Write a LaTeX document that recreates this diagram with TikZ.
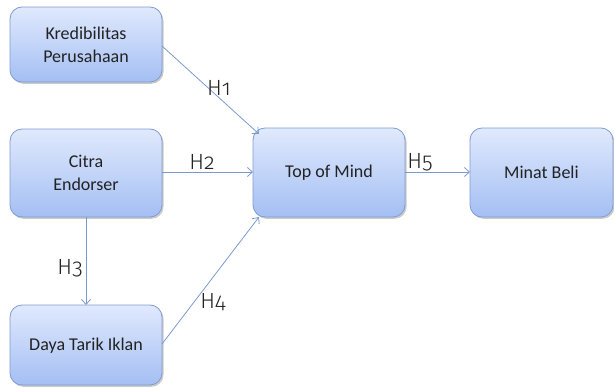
\documentclass[tikz,border=0pt]{standalone}
\usepackage{fontspec}
\setmainfont{Carlito}
\newfontfamily\hfont[Numbers=OldStyle]{Fira Sans Light}
\usetikzlibrary{shadows,arrows.meta}
\definecolor{boxtop}{HTML}{E0E9FD}
\definecolor{boxbot}{HTML}{A4BFF3}
\definecolor{boxline}{HTML}{809CCF}
\definecolor{arrowcol}{HTML}{7A9ACF}
\definecolor{txt}{HTML}{222222}
\tikzset{
  varbox/.style={draw=boxline, line width=0.8pt, rounded corners=12pt,
    top color=boxtop, bottom color=boxbot,
    drop shadow={shadow xshift=1.5pt, shadow yshift=-1.8pt, opacity=0.35, fill=black!60}},
  boxtext/.style={font=\fontsize{18}{23}\selectfont, align=center, text=txt, inner sep=0pt},
  link/.style={draw=arrowcol, line width=0.8pt, -{Straight Barb[length=5pt,width=9pt]}},
  hlab/.style={font=\hfont\fontsize{22}{24}\selectfont, text=txt, inner sep=0pt}
}
\begin{document}
\begin{tikzpicture}[x=1pt,y=-1pt]
\useasboundingbox (0,0) rectangle (614,388);
\path[varbox] (10,7) rectangle (162,82);
\node[boxtext] (kred) at (86,44.5) {Kredibilitas\\Perusahaan};
\path[varbox] (10,129) rectangle (162,217);
\node[boxtext] (citra) at (86,173) {Citra\\Endorser};
\path[varbox] (10,305) rectangle (162,385);
\node[boxtext] (daya) at (86,346) {Daya Tarik Iklan};
\path[varbox] (253,128) rectangle (405,217);
\node[boxtext] (tom) at (329,172.5) {Top of Mind};
\path[varbox] (470,128) rectangle (613,217);
\node[boxtext] (minat) at (541.5,172.5) {Minat Beli};
\coordinate (kredR) at (162,46);
\coordinate (tomTL) at (259,134);
\coordinate (citraR) at (162,172);
\coordinate (tomL) at (253,172);
\coordinate (citraB) at (86,217);
\coordinate (dayaT) at (86,305);
\coordinate (dayaR) at (162,344);
\coordinate (tomBL) at (259,217);
\coordinate (tomR) at (405,172);
\coordinate (minatL) at (470,172);
\draw[link] (kredR) -- (tomTL);
\draw[link] (citraR) -- (tomL);
\draw[link] (citraB) -- (dayaT);
\draw[link] (dayaR) -- (tomBL);
\draw[link] (tomR) -- (minatL);
\node[hlab] (h1) at (219,88) {H1};
\node[hlab] (h2) at (202,162) {H2};
\node[hlab] (h3) at (70,268) {H3};
\node[hlab] (h4) at (213,302) {H4};
\node[hlab] (h5) at (420,162) {H5};
\end{tikzpicture}
\end{document}
